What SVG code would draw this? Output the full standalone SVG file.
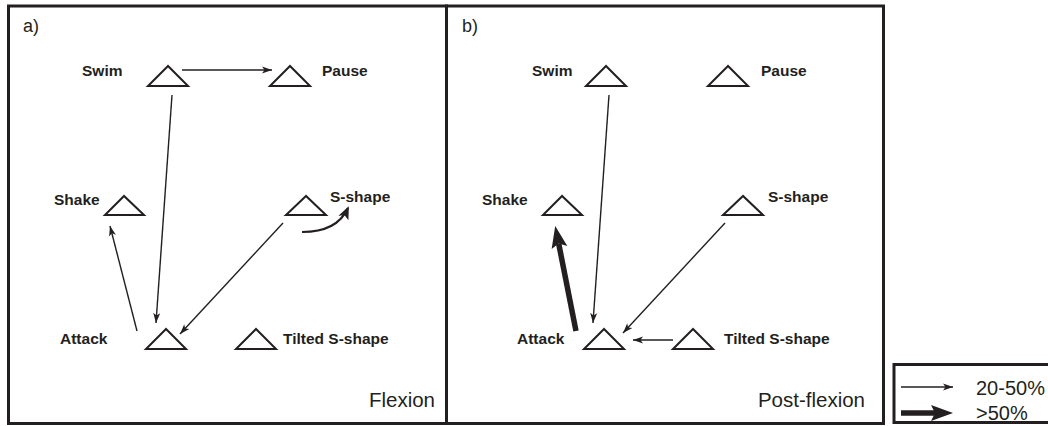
<svg xmlns="http://www.w3.org/2000/svg" width="1048" height="426" viewBox="0 0 1048 426">
<style>
.frame{fill:none;stroke:#231f20;stroke-width:3}
.tri{fill:#fff;stroke:#231f20;stroke-width:2;stroke-linejoin:miter}
.lbl{font-family:"Liberation Sans",Arial,sans-serif;font-weight:bold;font-size:15.5px;fill:#231f20}
.reg{font-family:"Liberation Sans",Arial,sans-serif;fill:#231f20}
.thin{fill:none;stroke:#231f20;stroke-width:1.4}
.thick{fill:none;stroke:#231f20;stroke-width:5.5}
.curve{fill:none;stroke:#231f20;stroke-width:2.2}
</style>
<defs>
<marker id="ah" markerUnits="userSpaceOnUse" markerWidth="11" markerHeight="8" refX="10" refY="3.5" orient="auto" overflow="visible">
<path d="M0,0 L10,3.5 L0,7 L2.5,3.5 z" fill="#231f20"/>
</marker>
<marker id="ahBig" markerUnits="userSpaceOnUse" markerWidth="23" markerHeight="17" refX="4" refY="8" orient="auto" overflow="visible">
<path d="M0,0 L22,8 L0,16 L4,8 z" fill="#231f20"/>
</marker>
<marker id="ahMid" markerUnits="userSpaceOnUse" markerWidth="14" markerHeight="12" refX="11" refY="5.5" orient="auto" overflow="visible">
<path d="M0,0 L13,5.5 L0,11 L3,5.5 z" fill="#231f20"/>
</marker>
</defs>
<rect width="1048" height="426" fill="#fff"/>
<g id="frames">
<rect class="frame" x="8.5" y="6" width="438" height="417.5"/>
<rect class="frame" x="446.5" y="6" width="437" height="417.5"/>
<text class="reg" x="23" y="32" font-size="18">a)</text>
<text class="reg" x="462" y="32" font-size="18">b)</text>
<text class="reg" x="435" y="407" font-size="20.5" text-anchor="end">Flexion</text>
<text class="reg" x="865" y="407" font-size="20.5" text-anchor="end">Post-flexion</text>
</g>
<g id="a-swim"><polygon class="tri" points="168,66 148,86 188,86"/><text class="lbl" x="82" y="76">Swim</text></g>
<g id="a-pause"><polygon class="tri" points="290,66 270,86 310,86"/><text class="lbl" x="322" y="76">Pause</text></g>
<g id="a-shake"><polygon class="tri" points="124,196 105,215 144,215"/><text class="lbl" x="54" y="205">Shake</text></g>
<g id="a-sshape"><polygon class="tri" points="306,196 286,215 326,215"/><text class="lbl" x="330" y="202">S-shape</text></g>
<g id="a-attack"><polygon class="tri" points="166,329 146,349 186,349"/><text class="lbl" x="60" y="344">Attack</text></g>
<g id="a-tilted"><polygon class="tri" points="256,329 236,349 276,349"/><text class="lbl" x="283" y="344">Tilted S-shape</text></g>
<g id="b-swim"><polygon class="tri" points="606,66 586,86 626,86"/><text class="lbl" x="532" y="76">Swim</text></g>
<g id="b-pause"><polygon class="tri" points="728,66 708,86 748,86"/><text class="lbl" x="761" y="76">Pause</text></g>
<g id="b-shake"><polygon class="tri" points="562,196 543,215 582,215"/><text class="lbl" x="482" y="205">Shake</text></g>
<g id="b-sshape"><polygon class="tri" points="743,196 723,215 763,215"/><text class="lbl" x="768" y="202">S-shape</text></g>
<g id="b-attack"><polygon class="tri" points="604,329 584,349 624,349"/><text class="lbl" x="517" y="344">Attack</text></g>
<g id="b-tilted"><polygon class="tri" points="693,329 673,349 713,349"/><text class="lbl" x="724" y="344">Tilted S-shape</text></g>
<g id="connectors">
<line class="thin" x1="182" y1="70" x2="272" y2="70" marker-end="url(#ah)"/>
<line class="thin" x1="172" y1="95" x2="156" y2="323" marker-end="url(#ah)"/>
<line class="thin" x1="137" y1="331" x2="110" y2="226" marker-end="url(#ah)"/>
<line class="thin" x1="283" y1="223" x2="180" y2="334" marker-end="url(#ah)"/>
<path class="curve" d="M302,232 Q337,232 348,208" marker-end="url(#ahMid)"/>
<line class="thin" x1="609" y1="95" x2="593" y2="323" marker-end="url(#ah)"/>
<line class="thick" x1="576" y1="331" x2="558.7" y2="243.6" marker-end="url(#ahBig)"/>
<line class="thin" x1="725" y1="223" x2="623" y2="333" marker-end="url(#ah)"/>
<line class="thin" x1="673" y1="340" x2="633" y2="340" marker-end="url(#ah)"/>
</g>
<g id="legend">
<rect class="frame" x="894" y="364.5" width="160" height="58"/>
<line class="thin" x1="901" y1="387" x2="953" y2="387" marker-end="url(#ah)"/>
<line class="thick" x1="901" y1="413" x2="935" y2="413" marker-end="url(#ahBig)"/>
<text class="reg" x="976" y="395" font-size="20">20-50%</text>
<text class="reg" x="976" y="420" font-size="20">&gt;50%</text>
</g>
</svg>
